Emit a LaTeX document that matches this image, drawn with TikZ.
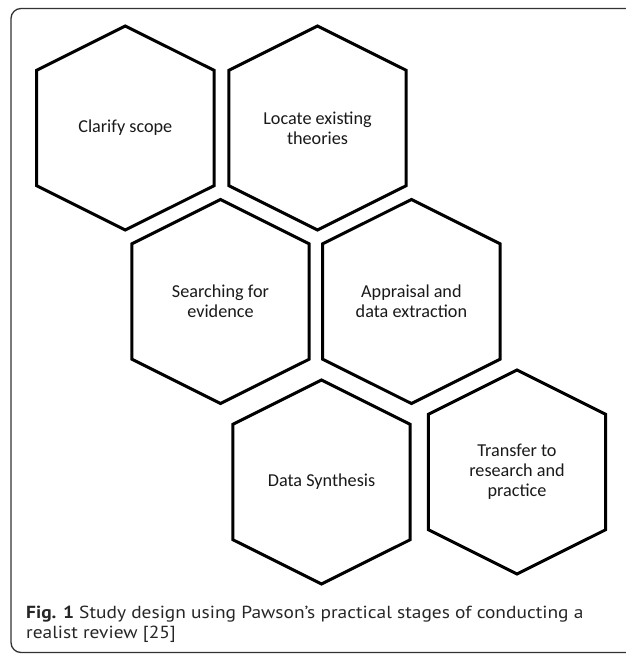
\documentclass[tikz,border=0pt]{standalone}
\usepackage{fontspec}
\setmainfont{Carlito}
\newfontfamily\capfont{PT Sans}
\begin{document}
\begin{tikzpicture}[x=1pt,y=-1pt,
  hexline/.style={line width=3pt,line join=miter,draw=black},
  hextext/.style={align=center,font=\fontsize{18.2}{20}\selectfont,text=black!90,inner sep=0pt},
  frameline/.style={draw=black!80,line width=1.3pt,rounded corners=10pt},
  captext/.style={anchor=base west,inner sep=0pt,font=\capfont\fontsize{17.5}{20}\selectfont,text=black!85}]
\useasboundingbox (0,0) rectangle (625,655);
\draw[frameline] (11,652.5) -- (11,8.5) -- (640,8.5) -- (640,652.5) -- cycle;
% hex macro: #1 name, #2 cx, #3 top, #4 text
\newcommand{\myhex}[4]{%
  \draw[hexline] (#2,#3) -- ++(88.7,44.3) -- ++(0,115.4) -- ++(-88.7,44.3) -- ++(-88.7,-44.3) -- ++(0,-115.4) -- cycle;
  \node[hextext] (#1) at (#2,#3+102) {#4};}
\myhex{clarify}{125.3}{26}{Clarify scope}
\myhex{locate}{317.5}{26}{Locate existing\\theories}
\myhex{search}{220.5}{199.5}{Searching for\\evidence}
\myhex{appraise}{411.4}{199.5}{Appraisal and\\data extraction}
\myhex{synth}{321.5}{380}{Data Synthesis}
\myhex{transfer}{517}{370}{Transfer to\\research and\\practice}
\node[captext] (cap1) at (26,618.3) {\scalebox{1.11}[1]{\textbf{Fig. 1} Study design using Pawson’s practical stages of conducting a}};
\node[captext] (cap2) at (26,638.3) {\scalebox{1.11}[1]{realist review [25]}};
\end{tikzpicture}
\end{document}
